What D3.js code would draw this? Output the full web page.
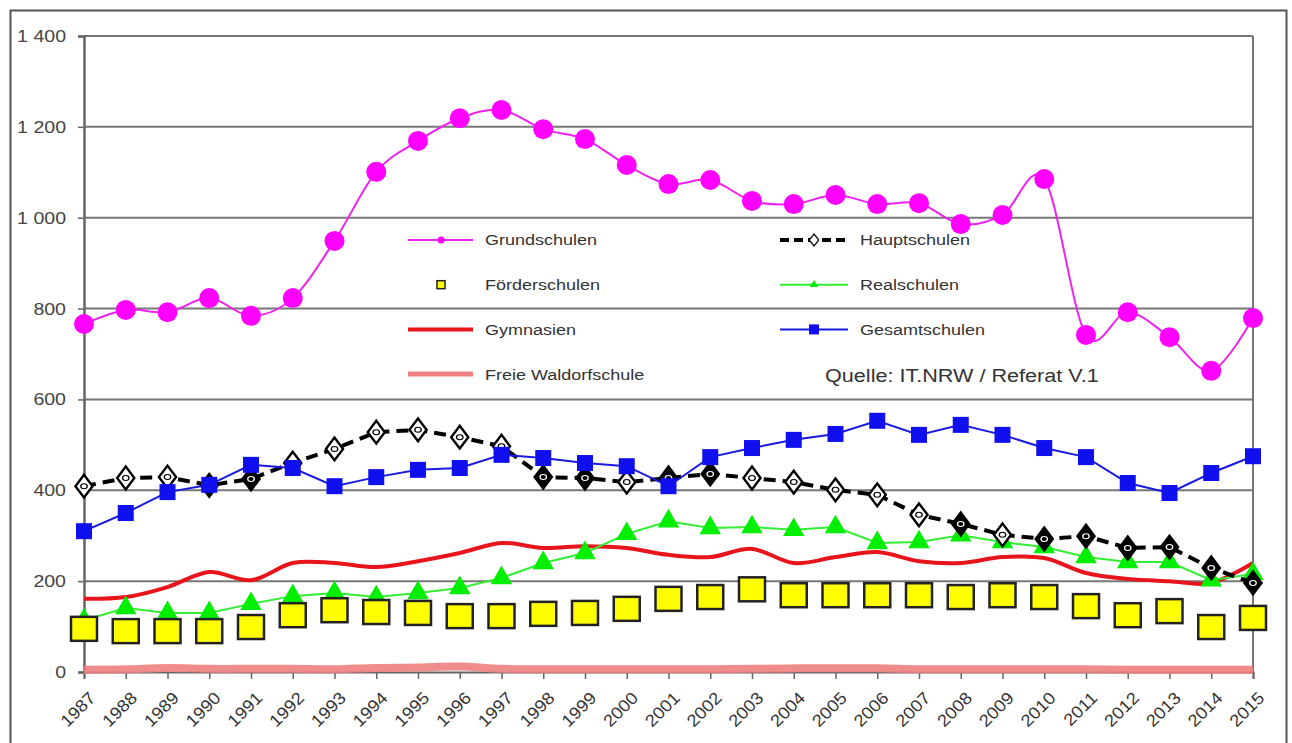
<!DOCTYPE html>
<html>
<head>
<meta charset="utf-8">
<script src="https://cdn.jsdelivr.net/npm/d3@7"></script>
<style>
  body { margin: 0; background: #fff; }
  svg { display: block; font-family: Arial, "Liberation Sans", sans-serif; }
</style>
</head>
<body>
<div id="chart"></div>
<script>
// years on the x axis
var years = d3.range(1987, 2016)

var grundschulen = [766, 797, 792, 823, 784, 823, 949, 1101, 1169, 1219, 1237, 1195, 1173, 1116, 1074, 1083, 1037, 1030, 1050, 1030, 1032, 986, 1006, 1085, 742, 792, 737, 663, 779]
var hauptschulen = [409, 427, 429, 411, 425, 460, 491, 528, 533, 517, 497, 429, 427, 418, 427, 436, 427, 418, 401, 390, 346, 326, 302, 293, 299, 273, 275, 229, 196]
var foerderschulen = [95, 90, 90, 90, 99, 125, 136, 132, 130, 123, 123, 128, 130, 139, 161, 165, 182, 169, 169, 169, 169, 165, 169, 165, 145, 125, 134, 99, 119]
var realschulen = [114, 141, 130, 130, 150, 167, 174, 165, 174, 185, 207, 240, 262, 304, 332, 317, 319, 313, 319, 284, 286, 301, 286, 275, 253, 242, 242, 202, 216]
var gymnasien = [161, 165, 187, 220, 202, 240, 240, 231, 244, 262, 284, 273, 277, 273, 258, 253, 271, 240, 253, 264, 244, 240, 253, 251, 218, 205, 200, 196, 240]
var gesamtschulen = [310, 350, 396, 412, 456, 449, 409, 429, 445, 449, 478, 471, 460, 453, 409, 473, 493, 511, 524, 553, 522, 544, 522, 493, 473, 416, 394, 438, 475]
var waldorf = [5, 6, 9, 7, 7, 7, 6, 9, 10, 12, 7, 6, 6, 6, 6, 6, 7, 8, 8, 8, 6, 6, 6, 6, 6, 5, 5, 5, 5]

// Hauptschulen markers that print dark in the original
var hauptDark = [1990, 1991, 1998, 1999, 2001, 2002, 2008, 2010, 2011, 2012, 2013, 2014, 2015]

var yTicks = [0, 200, 400, 600, 800, 1000, 1200, 1400]
var source = "Quelle:  IT.NRW / Referat V.1"

var width = 1292, height = 743
var margin = {top: 36, left: 84, right: 1253, bottom: 672}
var FONT = "Arial, 'Liberation Sans', sans-serif"

var svg = d3.select("#chart").append("svg")
    .attr("width", width)
    .attr("height", height)

// stretch text horizontally like the original picture
function stretch(sel, factor) {
    sel.each(function(){
        var len = this.getComputedTextLength()
        d3.select(this).attr("textLength", len * factor).attr("lengthAdjust", "spacingAndGlyphs")
    })
}

// outer frame
svg.append("rect")
    .attr("x", 10.5).attr("y", 10.5)
    .attr("width", 1276).attr("height", 760)
    .attr("fill", "none")
    .attr("stroke", "#555")
    .attr("stroke-width", 2)

var x = d3.scaleLinear().domain([1987, 2015]).range([margin.left, margin.right])
var y = d3.scaleLinear().domain([0, 1400]).range([margin.bottom, margin.top])

// grid lines
svg.append("g").selectAll("line")
    .data(yTicks.filter(function(d){ return d > 0 }))
    .join("line")
    .attr("x1", margin.left).attr("x2", margin.right)
    .attr("y1", function(d){ return y(d) }).attr("y2", function(d){ return y(d) })
    .attr("stroke", "#777")
    .attr("stroke-width", 2)

// plot right border
svg.append("line")
    .attr("x1", margin.right).attr("x2", margin.right)
    .attr("y1", margin.top).attr("y2", margin.bottom)
    .attr("stroke", "#777").attr("stroke-width", 2)

// y axis
var yAxis = svg.append("g")
    .attr("transform", "translate(" + margin.left + ",0)")
    .call(d3.axisLeft(y).tickValues(yTicks).tickSize(6).tickPadding(12)
        .tickFormat(function(d){ return d3.format(",")(d).replace(",", " ") }))
yAxis.select(".domain").attr("stroke", "#666").attr("stroke-width", 2.5)
yAxis.selectAll(".tick line").attr("stroke", "#666").attr("stroke-width", 1.5)
yAxis.selectAll("text").attr("fill", "#444").style("font-size", "17px").style("font-family", FONT)
stretch(yAxis.selectAll("text"), 1.15)

// x axis
var xAxis = svg.append("g")
    .attr("transform", "translate(0," + margin.bottom + ")")
    .call(d3.axisBottom(x).tickValues(years).tickSize(7).tickFormat(d3.format("d")))
xAxis.select(".domain").attr("stroke", "#666").attr("stroke-width", 2)
xAxis.selectAll(".tick line").attr("stroke", "#666").attr("stroke-width", 1.5)
xAxis.selectAll("text")
    .attr("fill", "#333")
    .style("font-size", "17px")
    .style("font-family", FONT)
    .attr("text-anchor", "end")
    .attr("x", 0).attr("y", 0).attr("dy", 0)
    .attr("transform", "translate(12,27) rotate(-45)")
stretch(xAxis.selectAll("text"), 1.08)

function series(values) {
    return values.map(function(v, i){ return {year: years[i], value: v} })
}

var smooth = d3.line()
    .x(function(d){ return x(d.year) })
    .y(function(d){ return y(d.value) })
    .curve(d3.curveCatmullRom.alpha(0))
var straight = d3.line()
    .x(function(d){ return x(d.year) })
    .y(function(d){ return y(d.value) })

var plot = svg.append("g")

// Freie Waldorfschule
plot.append("path").datum(series(waldorf))
    .attr("d", smooth)
    .attr("fill", "none").attr("stroke", "#f08080").attr("stroke-width", 8).attr("opacity", 0.9)

// Gymnasien
plot.append("path").datum(series(gymnasien))
    .attr("d", smooth)
    .attr("fill", "none").attr("stroke", "#e8141c").attr("stroke-width", 4)

// Realschulen
plot.append("path").datum(series(realschulen))
    .attr("d", straight)
    .attr("fill", "none").attr("stroke", "#33ee33").attr("stroke-width", 2)
plot.append("g").selectAll("path").data(series(realschulen)).join("path")
    .attr("transform", function(d){ return "translate(" + x(d.year) + "," + y(d.value) + ")" })
    .attr("d", d3.symbol(d3.symbolTriangle, 200))
    .attr("fill", "#00ee00")

// Förderschulen
plot.append("g").selectAll("rect").data(series(foerderschulen)).join("rect")
    .attr("x", function(d){ return x(d.year) - 13 })
    .attr("y", function(d){ return y(d.value) - 12 })
    .attr("width", 26).attr("height", 24)
    .attr("fill", "#ffff00").attr("stroke", "#222").attr("stroke-width", 2.5)

// Hauptschulen
plot.append("path").datum(series(hauptschulen))
    .attr("d", straight)
    .attr("fill", "none").attr("stroke", "#000").attr("stroke-width", 4)
    .attr("stroke-dasharray", "12,7")
var hm = plot.append("g").selectAll("g").data(series(hauptschulen)).join("g")
    .attr("transform", function(d){ return "translate(" + x(d.year) + "," + y(d.value) + ") scale(1.3,1)" })
hm.append("path")
    .attr("d", d3.symbol(d3.symbolDiamond, 150))
    .attr("fill", function(d){ return hauptDark.indexOf(d.year) >= 0 ? "#000" : "#fff" })
    .attr("stroke", "#000").attr("stroke-width", 2)
hm.append("circle").attr("r", 2.5)
    .attr("fill", "none")
    .attr("stroke", function(d){ return hauptDark.indexOf(d.year) >= 0 ? "#fff" : "#000" })
    .attr("stroke-width", 1)

// Gesamtschulen
plot.append("path").datum(series(gesamtschulen))
    .attr("d", straight)
    .attr("fill", "none").attr("stroke", "#1a1adf").attr("stroke-width", 2)
plot.append("g").selectAll("rect").data(series(gesamtschulen)).join("rect")
    .attr("x", function(d){ return x(d.year) - 8 })
    .attr("y", function(d){ return y(d.value) - 8 })
    .attr("width", 16).attr("height", 16)
    .attr("fill", "#1010ee")

// Grundschulen
plot.append("path").datum(series(grundschulen))
    .attr("d", smooth)
    .attr("fill", "none").attr("stroke", "#ee22ee").attr("stroke-width", 2)
plot.append("g").selectAll("circle").data(series(grundschulen)).join("circle")
    .attr("cx", function(d){ return x(d.year) })
    .attr("cy", function(d){ return y(d.value) })
    .attr("r", 10)
    .attr("fill", "#ff00ff")

// legend
var legend = svg.append("g").style("font-size", "15.5px").style("font-family", FONT).attr("fill", "#333")
var legendItems = [
    {name: "Grundschulen", col: 0, row: 0},
    {name: "Hauptschulen", col: 1, row: 0},
    {name: "Förderschulen", col: 0, row: 1},
    {name: "Realschulen", col: 1, row: 1},
    {name: "Gymnasien", col: 0, row: 2},
    {name: "Gesamtschulen", col: 1, row: 2},
    {name: "Freie Waldorfschule", col: 0, row: 3}
]
var lx = [408, 780], ly = 240, lstep = 44.7
legendItems.forEach(function(item){
    var sx = lx[item.col], sy = ly + item.row * lstep
    var g = legend.append("g").attr("transform", "translate(" + sx + "," + sy + ")")
    if (item.name === "Grundschulen") {
        g.append("line").attr("x1", 0).attr("x2", 65).attr("stroke", "#ee22ee").attr("stroke-width", 2)
        g.append("circle").attr("cx", 33).attr("r", 3.5).attr("fill", "#ff00ff")
    } else if (item.name === "Hauptschulen") {
        g.append("line").attr("x1", 0).attr("x2", 68).attr("stroke", "#000").attr("stroke-width", 4).attr("stroke-dasharray", "9,5")
        g.append("path").attr("transform", "translate(34,0) scale(1.4,1)").attr("d", d3.symbol(d3.symbolDiamond, 40)).attr("fill", "#fff").attr("stroke", "#000")
    } else if (item.name === "Förderschulen") {
        g.append("rect").attr("x", 29).attr("y", -4).attr("width", 8).attr("height", 8).attr("fill", "#ffff00").attr("stroke", "#222").attr("stroke-width", 1.5)
    } else if (item.name === "Realschulen") {
        g.append("line").attr("x1", 0).attr("x2", 68).attr("stroke", "#33ee33").attr("stroke-width", 2)
        g.append("path").attr("transform", "translate(34,0)").attr("d", d3.symbol(d3.symbolTriangle, 30)).attr("fill", "#00ee00")
    } else if (item.name === "Gymnasien") {
        g.append("line").attr("x1", 0).attr("x2", 65).attr("stroke", "#e8141c").attr("stroke-width", 4)
    } else if (item.name === "Gesamtschulen") {
        g.append("line").attr("x1", 0).attr("x2", 68).attr("stroke", "#1a1adf").attr("stroke-width", 2)
        g.append("rect").attr("x", 29).attr("y", -5).attr("width", 10).attr("height", 10).attr("fill", "#1010ee")
    } else {
        g.append("line").attr("x1", 0).attr("x2", 65).attr("stroke", "#f08080").attr("stroke-width", 5)
    }
    g.append("text").attr("x", item.col === 0 ? 77 : 80).attr("dy", "0.35em").text(item.name)
})
stretch(legend.selectAll("text"), 1.16)
var q = legend.append("text")
    .attr("x", 825).attr("y", ly + 3 * lstep + 2)
    .attr("dy", "0.35em")
    .style("font-size", "18px")
    .text(source)
stretch(q, 1.2)
</script>
</body>
</html>
